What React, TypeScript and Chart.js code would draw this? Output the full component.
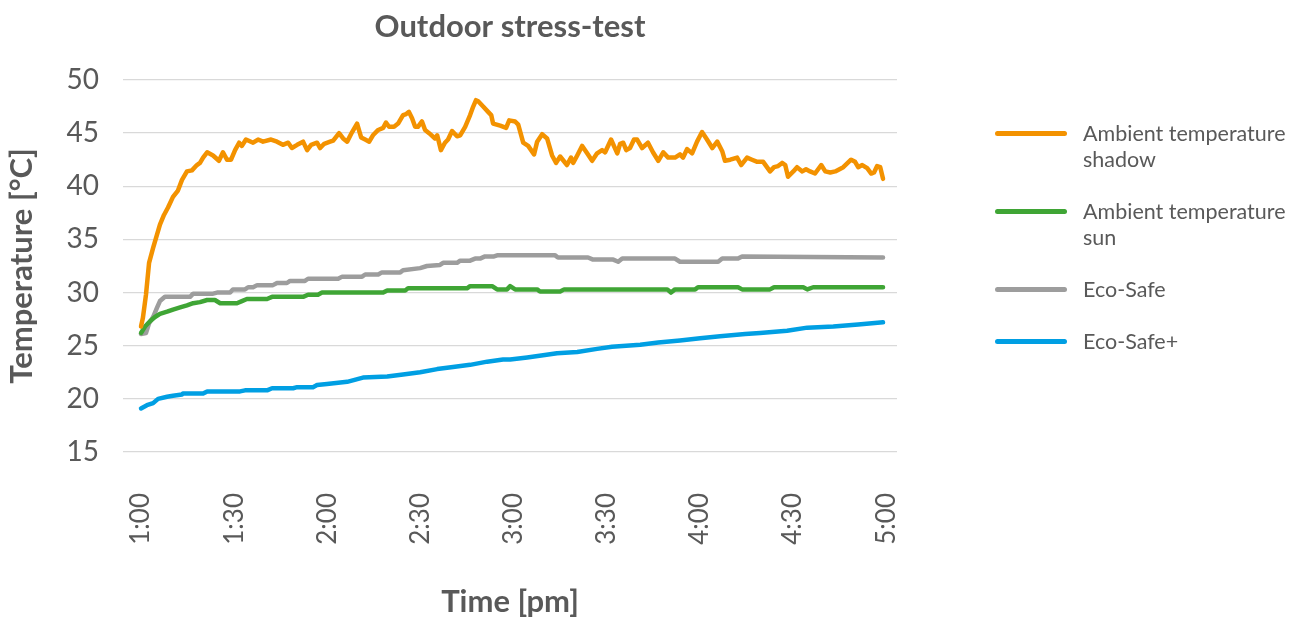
import React, { useEffect, useRef } from "react";
import { Chart, registerables } from "chart.js";

Chart.register(...registerables);

const FONT = "Lato, 'Open Sans', 'DejaVu Sans', sans-serif";
const TEXT_COLOR = "#595959";

const chartTitle = "Outdoor stress-test";
const xAxisTitle = "Time [pm]";
const yAxisTitle = "Temperature [°C]";

const seriesNames = ["Ambient temperature shadow", "Ambient temperature sun", "Eco-Safe", "Eco-Safe+"];
const seriesColors = ["#F39200", "#3FA535", "#9D9D9D", "#009FE3"];

// minutes after 1:00 pm
const xTickMinutes = [0, 30, 60, 90, 120, 150, 180, 210, 240];
const xTickLabels = ["1:00", "1:30", "2:00", "2:30", "3:00", "3:30", "4:00", "4:30", "5:00"];
const yTickValues = [15, 20, 25, 30, 35, 40, 45, 50];

const shadowMinutes = [
  0, 0.6, 1.6, 2.6, 3.9, 5.2, 6.1, 7.4, 8.7, 10.3, 11.9, 13.2, 14.8, 16.4, 18.0, 19.0, 20.0, 21.3, 23.2, 25.1,
  26.4, 27.7, 29.0, 30.3, 31.6, 32.5, 33.8, 36.1, 37.7, 39.3, 41.9, 43.8, 45.7, 47.4, 48.6, 50.3, 52.2, 53.5, 54.8, 56.7,
  57.7, 59.0, 60.9, 61.9, 63.8, 65.1, 66.4, 68.0, 69.6, 70.9, 72.2, 73.5, 74.7, 76.4, 78.0, 78.9, 79.9, 81.5, 82.8, 84.4,
  85.4, 86.3, 87.3, 88.3, 89.2, 90.5, 91.5, 92.8, 94.7, 95.4, 96.6, 97.9, 98.9, 100.2, 101.8, 102.8, 104.4, 106.0, 107.0, 107.9,
  108.6, 110.2, 111.8, 112.8, 113.4, 115.7, 117.6, 118.6, 120.5, 121.5, 123.1, 124.7, 126.6, 127.6, 129.2, 130.8, 132.4, 133.7, 135.0, 137.2,
  138.5, 139.2, 140.5, 142.1, 143.7, 145.3, 146.9, 148.5, 149.5, 151.4, 153.4, 154.3, 155.3, 156.3, 157.5, 158.8, 159.8, 161.4, 163.3, 164.9,
  166.6, 168.2, 169.8, 172.0, 173.6, 174.6, 175.9, 177.5, 179.1, 180.7, 182.3, 184.0, 185.6, 187.2, 188.1, 189.8, 192.0, 193.3, 195.2, 196.8,
  198.5, 200.4, 202.6, 203.9, 205.2, 206.5, 207.5, 208.4, 210.1, 211.3, 213.0, 214.2, 215.5, 217.1, 219.1, 220.4, 222.0, 223.6, 226.2, 228.7,
  230.0, 231.0, 232.3, 233.9, 235.2, 236.1, 237.1, 238.1, 239.0,
];
const shadowTemps = [
  26.8, 27.6, 29.8, 32.8, 34.2, 35.5, 36.4, 37.3, 38.0, 39.0, 39.6, 40.6, 41.4, 41.5, 42.0, 42.2, 42.7, 43.2, 42.9, 42.4,
  43.2, 42.5, 42.5, 43.4, 44.1, 43.8, 44.4, 44.1, 44.4, 44.2, 44.4, 44.2, 43.9, 44.1, 43.6, 43.9, 44.2, 43.4, 43.9, 44.1,
  43.6, 44.0, 44.2, 44.3, 45.0, 44.5, 44.2, 45.1, 45.9, 44.6, 44.4, 44.2, 44.8, 45.3, 45.5, 46.0, 45.6, 45.6, 45.9, 46.7,
  46.8, 47.0, 46.4, 45.6, 45.6, 46.1, 45.3, 45.0, 44.5, 44.8, 43.4, 44.1, 44.4, 45.2, 44.7, 44.8, 45.6, 46.7, 47.5, 48.1,
  48.0, 47.5, 47.0, 46.7, 45.9, 45.7, 45.5, 46.2, 46.1, 45.8, 44.1, 43.8, 43.0, 44.2, 44.9, 44.5, 42.9, 42.2, 42.8, 42.0,
  42.7, 42.2, 42.9, 43.8, 43.1, 42.4, 43.1, 43.4, 43.2, 44.4, 43.1, 44.0, 44.1, 43.4, 43.6, 44.4, 44.4, 43.6, 44.1, 43.2,
  42.4, 43.2, 42.7, 42.7, 43.0, 42.7, 43.5, 43.1, 44.2, 45.1, 44.4, 43.6, 44.2, 43.3, 42.4, 42.5, 42.7, 42.0, 42.7, 42.5,
  42.3, 42.3, 41.4, 41.8, 41.9, 42.2, 42.0, 40.9, 41.4, 41.8, 41.4, 41.6, 41.4, 41.2, 42.0, 41.4, 41.3, 41.4, 41.8, 42.5,
  42.3, 41.8, 42.0, 41.7, 41.2, 41.3, 41.9, 41.8, 40.7,
];

const sunMinutes = [
  0, 1.3, 2.9, 4.5, 6.1, 8.4, 10.3, 12.6, 14.8, 16.8, 19.0, 21.3, 23.8, 25.5, 30.9, 32.5, 34.1, 40.6, 42.2, 52.2,
  53.8, 57.0, 58.3, 78.0, 79.3, 85.1, 86.0, 105.0, 106.0, 113.1, 114.7, 117.9, 118.9, 120.5, 127.6, 128.5, 135.0, 136.3, 169.5, 170.7,
  172.0, 178.5, 179.4, 192.3, 193.6, 202.6, 203.9, 213.3, 214.6, 216.5, 239.0,
];
const sunTemps = [
  26.2, 26.8, 27.3, 27.7, 28.0, 28.2, 28.4, 28.6, 28.8, 29.0, 29.1, 29.3, 29.3, 29.0, 29.0, 29.2, 29.4, 29.4, 29.6, 29.6,
  29.8, 29.8, 30.0, 30.0, 30.2, 30.2, 30.4, 30.4, 30.6, 30.6, 30.3, 30.3, 30.6, 30.3, 30.3, 30.1, 30.1, 30.3, 30.3, 30.0,
  30.3, 30.3, 30.5, 30.5, 30.3, 30.3, 30.5, 30.5, 30.3, 30.5, 30.5,
];

const ecoSafeMinutes = [
  0, 1.6, 2.6, 3.9, 5.2, 6.1, 7.7, 15.8, 16.8, 23.2, 24.5, 28.7, 29.6, 33.5, 34.5, 36.1, 37.4, 42.5, 43.8, 47.0,
  48.0, 52.8, 53.8, 63.5, 64.8, 71.2, 72.2, 76.4, 77.6, 83.5, 84.4, 89.9, 92.1, 96.3, 97.3, 101.8, 102.8, 106.0, 107.6, 109.2,
  110.8, 113.7, 114.7, 133.4, 134.3, 144.0, 145.6, 152.1, 153.7, 155.0, 172.0, 173.6, 185.9, 187.2, 192.3, 193.6, 239.0,
];
const ecoSafeTemps = [
  26.1, 26.2, 27.1, 27.7, 28.6, 29.2, 29.6, 29.6, 29.9, 29.9, 30.0, 30.0, 30.3, 30.3, 30.5, 30.5, 30.7, 30.7, 30.9, 30.9,
  31.1, 31.1, 31.3, 31.3, 31.5, 31.5, 31.7, 31.7, 31.9, 31.9, 32.1, 32.3, 32.5, 32.6, 32.8, 32.8, 33.0, 33.0, 33.2, 33.2,
  33.4, 33.4, 33.5, 33.5, 33.3, 33.3, 33.1, 33.1, 32.9, 33.2, 33.2, 32.9, 32.9, 33.2, 33.2, 33.4, 33.3,
];

const ecoSafePlusMinutes = [
  0, 1.9, 3.9, 5.5, 8.4, 10.3, 13.2, 13.5, 20.0, 21.3, 31.9, 33.5, 40.6, 42.2, 49.0, 50.3, 55.4, 56.7, 59.9, 66.4,
  71.5, 79.3, 84.4, 89.9, 95.4, 100.5, 106.0, 111.5, 116.6, 118.9, 124.4, 129.5, 134.0, 140.5, 146.9, 151.7, 160.8, 166.6, 173.6, 180.1,
  186.5, 194.6, 199.4, 208.1, 214.6, 223.0, 231.0, 239.0,
];
const ecoSafePlusTemps = [
  19.1, 19.4, 19.6, 20.0, 20.2, 20.3, 20.4, 20.5, 20.5, 20.7, 20.7, 20.8, 20.8, 21.0, 21.0, 21.1, 21.1, 21.3, 21.4, 21.6,
  22.0, 22.1, 22.3, 22.5, 22.8, 23.0, 23.2, 23.5, 23.7, 23.7, 23.9, 24.1, 24.3, 24.4, 24.7, 24.9, 25.1, 25.3, 25.5, 25.7,
  25.9, 26.1, 26.2, 26.4, 26.7, 26.8, 27.0, 27.2,
];

const seriesMinutes = [shadowMinutes, sunMinutes, ecoSafeMinutes, ecoSafePlusMinutes];
const seriesTemps = [shadowTemps, sunTemps, ecoSafeTemps, ecoSafePlusTemps];

const W = 1309;
const H = 617;

export default function App() {
  const canvasRef = useRef<HTMLCanvasElement | null>(null);

  useEffect(() => {
    if (!canvasRef.current) return;
    const datasets = seriesNames.map((name, i) => ({
      label: name,
      data: seriesMinutes[i].map((m, j) => ({ x: m, y: seriesTemps[i][j] })),
      borderColor: seriesColors[i],
      backgroundColor: seriesColors[i],
      borderWidth: 4.5,
      pointRadius: 0,
      tension: 0,
      fill: false,
      borderCapStyle: "round" as const,
      borderJoinStyle: "round" as const,
    }));

    const chart = new Chart(canvasRef.current, {
      type: "line",
      data: { datasets },
      options: {
        animation: false,
        responsive: false,
        maintainAspectRatio: false,
        layout: { padding: { left: 0, right: 412, top: 0, bottom: 0 } },
        plugins: {
          legend: { display: false },
          tooltip: { enabled: false },
          title: {
            display: true,
            text: chartTitle,
            color: TEXT_COLOR,
            fullSize: false,
            font: { family: FONT, size: 31, weight: "bold", lineHeight: 1.2 },
            padding: { top: 8.5, bottom: 34.3 },
          },
        },
        scales: {
          x: {
            type: "linear",
            min: -5.8,
            max: 243.5,
            afterBuildTicks: (axis: any) => {
              axis.ticks = xTickMinutes.map((v) => ({ value: v }));
            },
            afterFit: (axis: any) => {
              axis.height = 165;
            },
            grid: { display: false, drawTicks: false },
            border: { display: false },
            ticks: {
              autoSkip: false,
              minRotation: 90,
              maxRotation: 90,
              padding: 41,
              color: TEXT_COLOR,
              font: { family: FONT, size: 26 },
              callback: (value: any) => {
                const idx = xTickMinutes.indexOf(Number(value));
                return idx >= 0 ? xTickLabels[idx] : "";
              },
            },
            title: {
              display: true,
              text: xAxisTitle,
              color: TEXT_COLOR,
              font: { family: FONT, size: 31, weight: "bold", lineHeight: 1.0 },
              padding: { top: 0, bottom: 0 },
            },
          },
          y: {
            type: "linear",
            min: 15,
            max: 50,
            afterBuildTicks: (axis: any) => {
              axis.ticks = yTickValues.map((v) => ({ value: v }));
            },
            afterFit: (axis: any) => {
              axis.width = 123;
            },
            grid: { color: "#D9D9D9", lineWidth: 1.3, drawTicks: false },
            border: { display: false },
            ticks: {
              padding: 24,
              color: TEXT_COLOR,
              font: { family: FONT, size: 28 },
            },
            title: {
              display: true,
              text: yAxisTitle,
              color: TEXT_COLOR,
              font: { family: FONT, size: 31, weight: "bold", lineHeight: 1.2 },
              padding: { top: 3.5, bottom: 0 },
            },
          },
        },
      },
    });
    return () => chart.destroy();
  }, []);

  return (
    <div style={{ position: "absolute", left: 0, top: 0, width: W, height: H, background: "#fff", overflow: "hidden" }}>
      <canvas ref={canvasRef} width={W} height={H} style={{ width: W, height: H, display: "block" }} />
      <div style={{ position: "absolute", left: 995, top: 120, fontFamily: FONT, color: TEXT_COLOR }}>
        {seriesNames.map((name, i) => (
          <div key={name} style={{ display: "flex", alignItems: "flex-start", marginBottom: 26 }}>
            <div
              style={{
                width: 72,
                height: 5,
                borderRadius: 3,
                background: seriesColors[i],
                marginTop: 11,
                marginRight: 16,
                flex: "none",
              }}
            />
            <div style={{ width: 226, fontSize: 21.5, lineHeight: "26px" }}>{name}</div>
          </div>
        ))}
      </div>
    </div>
  );
}
